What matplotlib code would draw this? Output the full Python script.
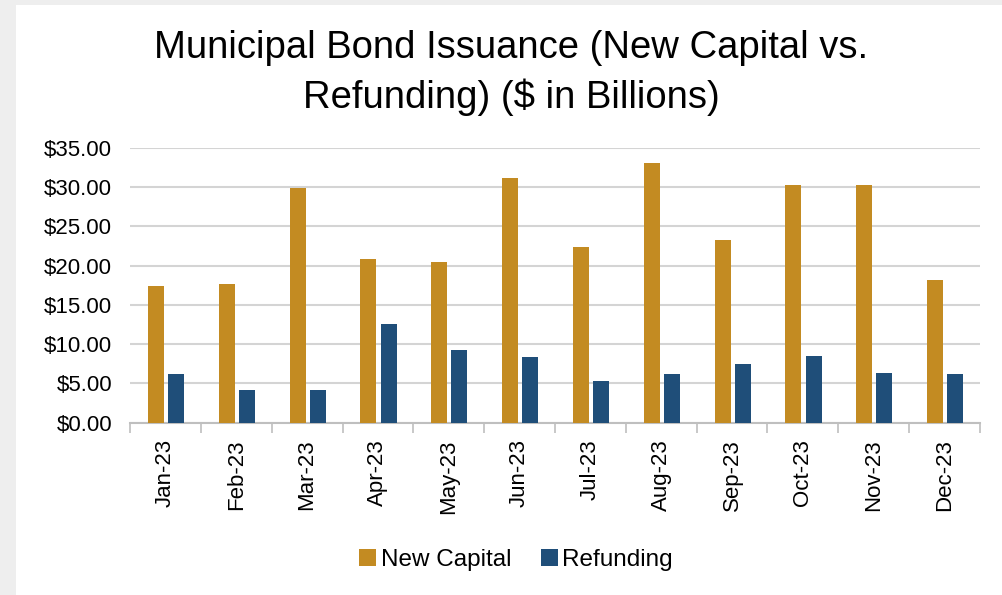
import numpy as np
import matplotlib
matplotlib.use('Agg')
import matplotlib.pyplot as plt
from matplotlib.patches import Rectangle, Patch

plt.rcParams['font.family'] = ['Liberation Sans', 'DejaVu Sans']

# ------- data -------
months = ['Jan-23', 'Feb-23', 'Mar-23', 'Apr-23', 'May-23', 'Jun-23',
          'Jul-23', 'Aug-23', 'Sep-23', 'Oct-23', 'Nov-23', 'Dec-23']
new_capital = [17.4, 17.7, 29.9, 20.8, 20.4, 31.1, 22.3, 33.1, 23.2, 30.2, 30.2, 18.1]
refunding = [6.15, 4.1, 4.1, 12.5, 9.2, 8.3, 5.3, 6.15, 7.5, 8.5, 6.3, 6.15]
yticks = [0, 5, 10, 15, 20, 25, 30, 35]

gold = '#C38B22'
blue = '#1F4E79'

fig = plt.figure(figsize=(10.02, 5.95), dpi=100)
fig.patch.set_facecolor('#EEEEEE')
# white panel behind everything
panel = Rectangle((16 / 1002, 0), 1, 1 - 5 / 595, transform=fig.transFigure,
                  facecolor='white', edgecolor='none', zorder=-10)
fig.add_artist(panel)

ax = fig.add_axes([130 / 1002, 1 - 422.7 / 595, 850 / 1002, 275 / 595])
ax.set_zorder(1)
ax.set_facecolor('white')

x = np.arange(len(months))
width = 0.226
ax.bar(x - 0.135, new_capital, width, color=gold, zorder=3)
ax.bar(x + 0.15, refunding, width, color=blue, zorder=3)

ax.set_xlim(-0.5, len(months) - 0.5)
ax.set_ylim(0, 35)
ax.set_yticks(yticks)
ax.set_yticklabels(['${:.2f}'.format(v) for v in yticks], fontsize=16)
ax.yaxis.grid(True, color='#D4D4D4', linewidth=1.5, zorder=0)
ax.set_axisbelow(True)
ax.tick_params(axis='y', length=0, pad=13)

ax.set_xticks(x)
ax.set_xticklabels(months, rotation=90, fontsize=16)
ax.set_xticks(np.arange(len(months) + 1) - 0.5, minor=True)
ax.tick_params(axis='x', which='major', length=0, pad=12)
ax.tick_params(axis='x', which='minor', length=7, color='#BFBFBF', width=1.2)

for s in ['top', 'right', 'left']:
    ax.spines[s].set_visible(False)
ax.spines['bottom'].set_color('#BFBFBF')
ax.spines['bottom'].set_linewidth(1.5)

fig.text(511 / 1002, 1 - 48 / 595, 'Municipal Bond Issuance (New Capital vs.',
         ha='center', va='center', fontsize=27.5)
fig.text(511 / 1002, 1 - 97 / 595, 'Refunding) ($ in Billions)',
         ha='center', va='center', fontsize=27.5)

handles = [Patch(facecolor=gold), Patch(facecolor=blue)]
fig.legend(handles, ['New Capital', 'Refunding'], loc='center',
           bbox_to_anchor=(516 / 1002, 1 - 560 / 595), ncol=2, frameon=False,
           fontsize=17.5, handlelength=0.7, handleheight=0.7, handletextpad=0.2,
           columnspacing=1.2)

fig.savefig('out.png', dpi=100, facecolor=fig.get_facecolor())
